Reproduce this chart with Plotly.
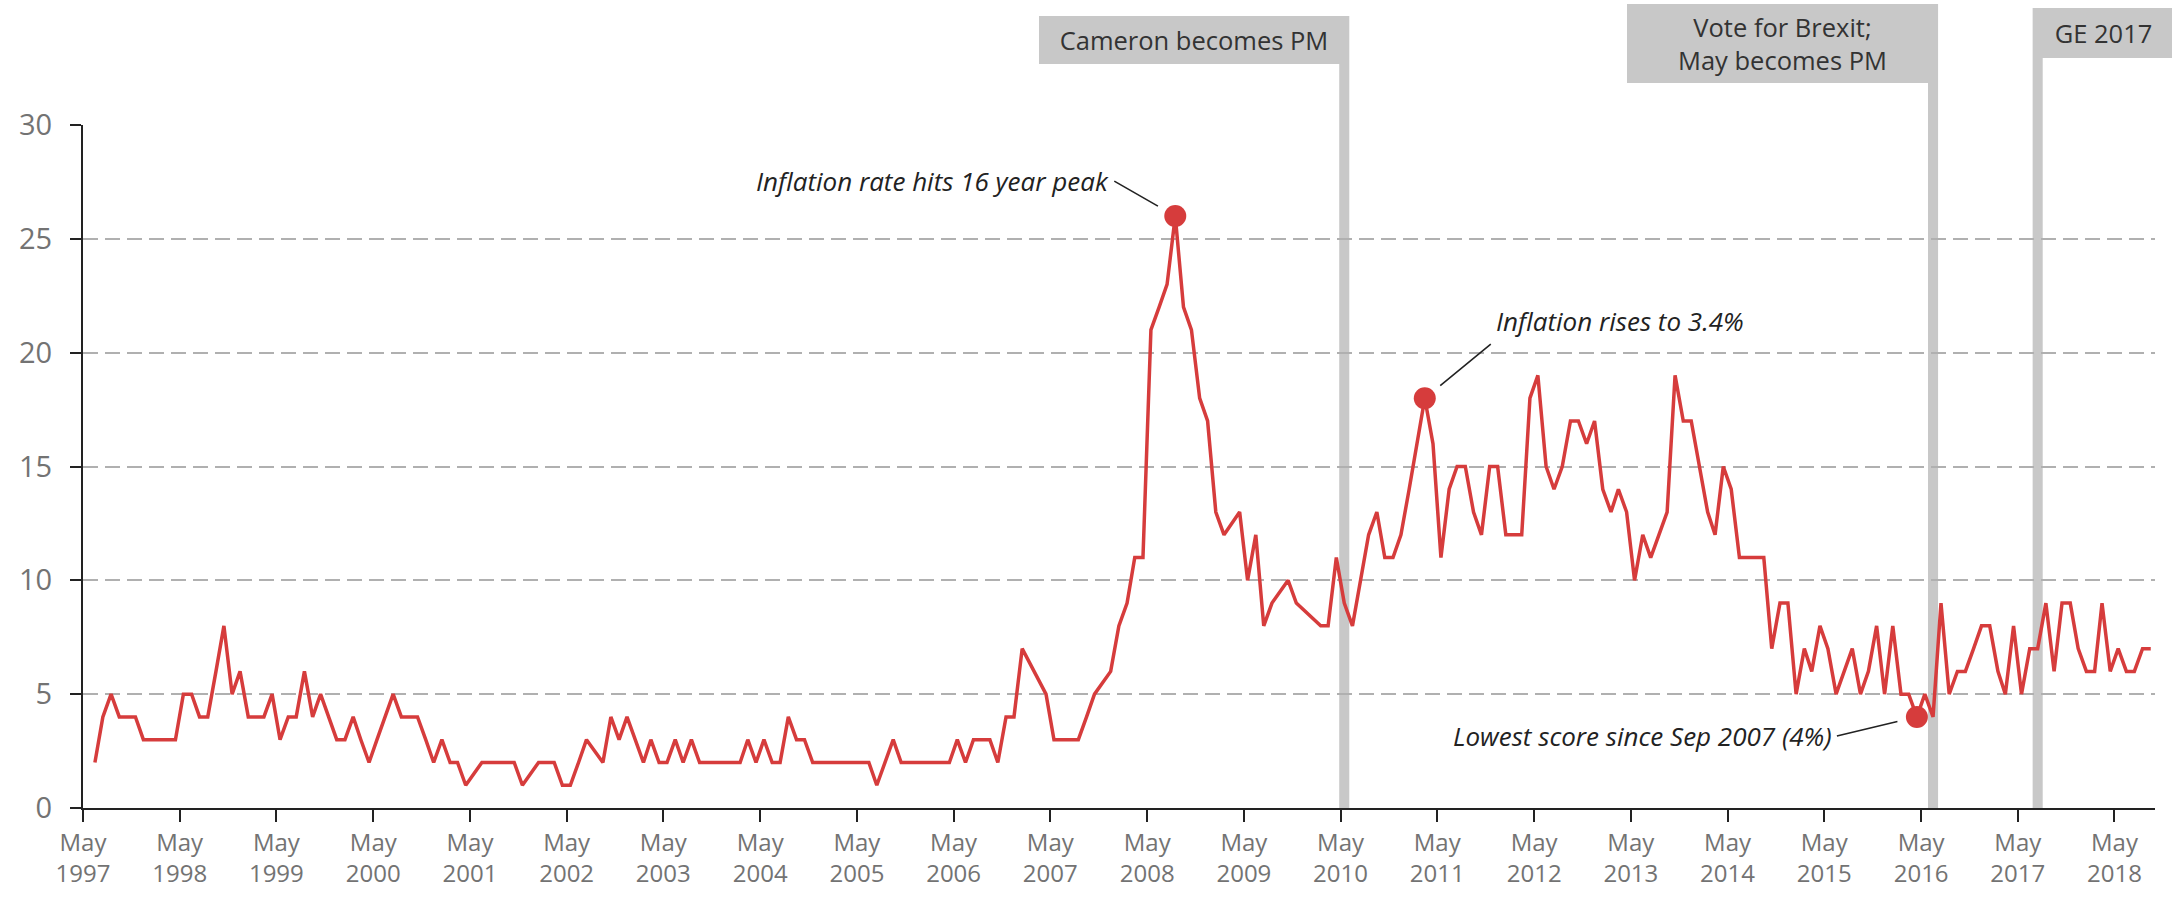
import pandas as pd
import plotly.graph_objects as go

# ---------------- data ----------------
months = [
    "1997-06", "1997-07", "1997-08", "1997-09", "1997-10", "1997-11", "1997-12",
    "1998-01", "1998-02", "1998-03", "1998-04", "1998-05", "1998-06", "1998-07", "1998-08", "1998-09", "1998-10", "1998-11", "1998-12",
    "1999-01", "1999-02", "1999-03", "1999-04", "1999-05", "1999-06", "1999-07", "1999-08", "1999-09", "1999-10", "1999-11", "1999-12",
    "2000-01", "2000-02", "2000-03", "2000-04", "2000-05", "2000-06", "2000-07", "2000-08", "2000-09", "2000-10", "2000-11", "2000-12",
    "2001-01", "2001-02", "2001-03", "2001-04", "2001-06", "2001-07", "2001-08", "2001-09", "2001-10", "2001-11",
    "2002-01", "2002-02", "2002-03", "2002-04", "2002-05", "2002-06", "2002-07", "2002-09", "2002-10", "2002-11", "2002-12",
    "2003-01", "2003-02", "2003-03", "2003-04", "2003-05", "2003-06", "2003-07", "2003-08", "2003-09", "2003-10", "2003-11", "2003-12",
    "2004-01", "2004-02", "2004-03", "2004-04", "2004-05", "2004-06", "2004-07", "2004-08", "2004-09", "2004-10", "2004-11", "2004-12",
    "2005-01", "2005-02", "2005-03", "2005-04", "2005-05", "2005-06", "2005-07", "2005-08", "2005-09", "2005-10", "2005-11", "2005-12",
    "2006-01", "2006-02", "2006-03", "2006-04", "2006-05", "2006-06", "2006-07", "2006-08", "2006-09", "2006-10", "2006-11", "2006-12",
    "2007-01", "2007-04", "2007-05", "2007-06", "2007-07", "2007-08", "2007-09", "2007-10", "2007-12",
    "2008-01", "2008-02", "2008-03", "2008-04", "2008-05", "2008-06", "2008-07", "2008-08", "2008-09", "2008-10", "2008-11", "2008-12",
    "2009-01", "2009-02", "2009-04", "2009-05", "2009-06", "2009-07", "2009-08", "2009-10", "2009-11",
    "2010-02", "2010-03", "2010-04", "2010-05", "2010-06", "2010-07", "2010-08", "2010-09", "2010-10", "2010-11", "2010-12",
    "2011-01", "2011-02", "2011-03", "2011-04", "2011-05", "2011-06", "2011-07", "2011-08", "2011-09", "2011-10", "2011-11", "2011-12",
    "2012-01", "2012-02", "2012-03", "2012-04", "2012-05", "2012-06", "2012-07", "2012-08", "2012-09", "2012-10", "2012-11", "2012-12",
    "2013-01", "2013-02", "2013-03", "2013-04", "2013-05", "2013-06", "2013-07", "2013-08", "2013-09", "2013-10", "2013-11", "2013-12",
    "2014-01", "2014-02", "2014-03", "2014-04", "2014-05", "2014-06", "2014-07", "2014-08", "2014-09", "2014-10", "2014-11", "2014-12",
    "2015-01", "2015-02", "2015-03", "2015-04", "2015-05", "2015-06", "2015-07", "2015-08", "2015-09", "2015-10", "2015-11", "2015-12",
    "2016-01", "2016-02", "2016-03", "2016-04", "2016-05", "2016-06", "2016-07", "2016-08", "2016-09", "2016-10", "2016-11", "2016-12",
    "2017-01", "2017-02", "2017-03", "2017-04", "2017-05", "2017-06", "2017-07", "2017-08", "2017-09", "2017-10", "2017-11", "2017-12",
    "2018-01", "2018-02", "2018-03", "2018-04", "2018-05", "2018-06", "2018-07", "2018-08", "2018-09",
]

share = [
    2, 4, 5, 4, 4, 4, 3,
    3, 3, 3, 3, 5, 5, 4, 4, 6, 8, 5, 6,
    4, 4, 4, 5, 3, 4, 4, 6, 4, 5, 4, 3,
    3, 4, 3, 2, 3, 4, 5, 4, 4, 4, 3, 2,
    3, 2, 2, 1, 2, 2, 2, 2, 2, 1,
    2, 2, 2, 1, 1, 2, 3, 2, 4, 3, 4,
    3, 2, 3, 2, 2, 3, 2, 3, 2, 2, 2, 2,
    2, 2, 3, 2, 3, 2, 2, 4, 3, 3, 2, 2,
    2, 2, 2, 2, 2, 2, 1, 2, 3, 2, 2, 2,
    2, 2, 2, 2, 3, 2, 3, 3, 3, 2, 4, 4,
    7, 5, 3, 3, 3, 3, 4, 5, 6,
    8, 9, 11, 11, 21, 22, 23, 26, 22, 21, 18, 17,
    13, 12, 13, 10, 12, 8, 9, 10, 9,
    8, 8, 11, 9, 8, 10, 12, 13, 11, 11, 12,
    14, 16, 18, 16, 11, 14, 15, 15, 13, 12, 15, 15,
    12, 12, 12, 18, 19, 15, 14, 15, 17, 17, 16, 17,
    14, 13, 14, 13, 10, 12, 11, 12, 13, 19, 17, 17,
    15, 13, 12, 15, 14, 11, 11, 11, 11, 7, 9, 9,
    5, 7, 6, 8, 7, 5, 6, 7, 5, 6, 8, 5,
    8, 5, 5, 4, 5, 4, 9, 5, 6, 6, 7, 8,
    8, 6, 5, 8, 5, 7, 7, 9, 6, 9, 9, 7,
    6, 6, 9, 6, 7, 6, 6, 7, 7,
]

tick_years = list(range(1997, 2019))
tick_month_label = "May"

event_labels = ["Cameron becomes PM", "Vote for Brexit;<br>May becomes PM", "GE 2017"]
event_months = ["2010-05", "2016-06", "2017-07"]

callout_months = ["2008-08", "2011-03", "2016-04"]
callout_texts = ["Inflation rate hits 16 year peak", "Inflation rises to 3.4%",
                 "Lowest score since Sep 2007 (4%)"]

# ---------------- styling ----------------
RED = "#d63c3c"
GREY_BAR = "#c8c8c8"
TICK_GREY = "#737373"
FONT = "Open Sans"

W, H = 2172, 897
M_L, M_R, M_T, M_B = 83, 17, 125, 89
PLOT_H = H - M_T - M_B

def month_mid(m):
    return pd.Timestamp(m + "-01") + pd.Timedelta(days=14)

x_dates = [month_mid(m) for m in months]

fig = go.Figure()
fig.add_trace(go.Scatter(
    x=x_dates, y=share, mode="lines",
    line=dict(color=RED, width=3.5), hoverinfo="skip"))

# callout markers (looked up from the data)
c_x = [month_mid(m) for m in callout_months]
c_y = [share[months.index(m)] for m in callout_months]
fig.add_trace(go.Scatter(
    x=c_x, y=c_y, mode="markers",
    marker=dict(color=RED, size=22), hoverinfo="skip"))

# event bars + label boxes
half_w = pd.Timedelta(days=19)
box_style = [  # (side, top_px, height_px, width_px)
    ("left", 16, 48, 310),
    ("left", 4, 79, 311),
    ("right", 8, 50, 141),
]
shapes = []
annotations = []
for lab, m, (side, top, hgt, wid) in zip(event_labels, event_months, box_style):
    c = month_mid(m)
    x0, x1 = c - half_w, c + half_w
    top_paper = (PLOT_H + M_T - top) / PLOT_H
    shapes.append(dict(type="rect", xref="x", yref="paper", x0=x0, x1=x1,
                       y0=0, y1=top_paper, fillcolor=GREY_BAR, line=dict(width=0),
                       layer="below"))
    annotations.append(dict(
        xref="x", yref="paper",
        x=x1 if side == "left" else x0,
        xanchor="right" if side == "left" else "left",
        y=top_paper, yanchor="top",
        text=lab, showarrow=False, bgcolor=GREY_BAR,
        width=wid, height=hgt, borderpad=0, borderwidth=0,
        align="center", valign="middle",
        font=dict(family=FONT, size=25.5, color="#333333")))

callout_style = [  # (ax, ay, xanchor, yanchor)
    (-61, -35, "right", "middle"),
    (66, -54, "left", "bottom"),
    (-80, 19, "right", "middle"),
]
for cx, cy, txt, (ax, ay, xa, ya) in zip(c_x, c_y, callout_texts, callout_style):
    annotations.append(dict(
        x=cx, y=cy, xref="x", yref="y", ax=ax, ay=ay, axref="pixel", ayref="pixel",
        text="<i>" + txt + "</i>", showarrow=True, arrowhead=0, arrowwidth=1.6,
        arrowcolor="#222222", standoff=20, xanchor=xa, yanchor=ya, borderpad=4,
        font=dict(family=FONT, size=26, color="#222222")))

fig.update_layout(
    width=W, height=H,
    margin=dict(l=M_L, r=M_R, t=M_T, b=M_B, autoexpand=False),
    plot_bgcolor="white", paper_bgcolor="white",
    showlegend=False,
    font=dict(family=FONT, color=TICK_GREY),
    shapes=shapes, annotations=annotations,
    xaxis=dict(
        type="date", range=["1997-05-01", "2018-10-01"],
        tickmode="array",
        tickvals=[f"{y}-05-01" for y in tick_years],
        ticktext=[f"{tick_month_label}<br>{y}" for y in tick_years],
        ticks="outside", ticklen=12, tickwidth=2, tickcolor="#222222",
        showline=True, linecolor="#222222", linewidth=2,
        showgrid=False, zeroline=False, automargin=False,
        tickfont=dict(family=FONT, size=24, color=TICK_GREY),
        ticklabelstandoff=0,
    ),
    yaxis=dict(
        range=[0, 30], tickmode="array", tickvals=[0, 5, 10, 15, 20, 25, 30],
        ticks="outside", ticklen=11, tickwidth=2, tickcolor="#222222",
        showline=True, linecolor="#222222", linewidth=2,
        showgrid=True, gridcolor="#b0b0b0", gridwidth=2, griddash="15px,7px",
        zeroline=False, automargin=False,
        tickfont=dict(family=FONT, size=29, color=TICK_GREY),
        ticklabelstandoff=12,
    ),
)

fig.write_html("out.html", config={"displayModeBar": False},
               post_script="document.body.style.margin='0';document.body.style.overflow='hidden';")
